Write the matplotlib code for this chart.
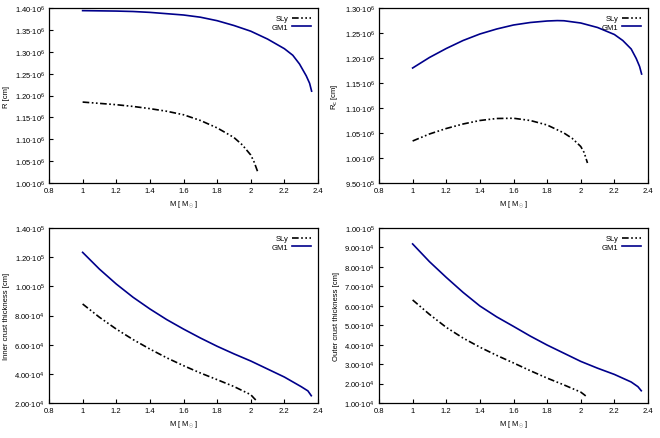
import numpy as np
import matplotlib
matplotlib.use('Agg')
import matplotlib.pyplot as plt
from matplotlib.ticker import FuncFormatter, MultipleLocator

plt.rcParams['font.family'] = ['Liberation Sans', 'DejaVu Sans']
plt.rcParams['mathtext.fontset'] = 'custom'
plt.rcParams['mathtext.rm'] = 'Liberation Sans'
plt.rcParams['mathtext.it'] = 'Liberation Sans'

# radius R [cm] vs mass [M_sun]
m_gm1_r = [1.0, 1.1, 1.2, 1.3, 1.4, 1.5, 1.6, 1.7, 1.8, 1.9, 2.0, 2.1, 2.2, 2.25, 2.29, 2.33, 2.35, 2.362]
r_gm1 = [1.394, 1.3935, 1.393, 1.392, 1.390, 1.387, 1.384, 1.379, 1.371, 1.360, 1.347, 1.329,
         1.307, 1.292, 1.272, 1.245, 1.228, 1.210]
m_sly_r = [1.0, 1.1, 1.2, 1.3, 1.4, 1.5, 1.6, 1.7, 1.8, 1.9, 1.95, 2.0, 2.02, 2.04]
r_sly = [1.185, 1.182, 1.179, 1.175, 1.170, 1.164, 1.156, 1.143, 1.126, 1.104, 1.087, 1.064, 1.048, 1.027]

# core radius Rc [cm]
m_gm1_rc = [1.0, 1.1, 1.2, 1.3, 1.4, 1.5, 1.6, 1.7, 1.8, 1.86, 1.9, 2.0, 2.1, 2.2, 2.25, 2.3, 2.33, 2.35, 2.362]
rc_gm1 = [1.180, 1.201, 1.219, 1.235, 1.248, 1.258, 1.266, 1.271, 1.274, 1.2748, 1.2745, 1.270, 1.261,
          1.247, 1.235, 1.218, 1.199, 1.183, 1.168]
m_sly_rc = [1.0, 1.1, 1.2, 1.3, 1.4, 1.5, 1.6, 1.7, 1.8, 1.9, 1.95, 2.0, 2.02, 2.04]
rc_sly = [1.034, 1.048, 1.059, 1.068, 1.075, 1.079, 1.0795, 1.075, 1.066, 1.050, 1.039, 1.023, 1.011, 0.990]

# inner crust thickness [cm]
m_gm1_in = [1.0, 1.1, 1.2, 1.3, 1.4, 1.5, 1.6, 1.7, 1.8, 1.9, 2.0, 2.1, 2.2, 2.3, 2.34, 2.36]
inner_gm1 = [12.33, 11.18, 10.16, 9.25, 8.45, 7.72, 7.07, 6.46, 5.89, 5.37, 4.88, 4.33, 3.78, 3.12, 2.83, 2.50]
m_sly_in = [1.0, 1.1, 1.2, 1.3, 1.4, 1.5, 1.6, 1.7, 1.8, 1.9, 2.0, 2.02, 2.04]
inner_sly = [8.79, 7.88, 7.07, 6.35, 5.70, 5.10, 4.56, 4.06, 3.60, 3.13, 2.57, 2.32, 2.09]

# outer crust thickness [cm]
m_gm1_out = [1.0, 1.1, 1.2, 1.3, 1.4, 1.5, 1.6, 1.7, 1.8, 1.9, 2.0, 2.1, 2.2, 2.3, 2.34, 2.36]
outer_gm1 = [9.18, 8.27, 7.46, 6.69, 5.99, 5.43, 4.94, 4.44, 3.98, 3.56, 3.14, 2.79, 2.47, 2.08, 1.84, 1.63]
m_sly_out = [1.0, 1.1, 1.2, 1.3, 1.4, 1.5, 1.6, 1.7, 1.8, 1.9, 2.0, 2.02, 2.04]
outer_sly = [6.30, 5.56, 4.89, 4.34, 3.87, 3.45, 3.06, 2.66, 2.28, 1.93, 1.56, 1.43, 1.29]


def sci(v, pos):
    if v <= 0:
        return ''
    e = int(np.floor(np.log10(v) + 1e-9))
    mant = v / 10**e
    return r'%.2f$\cdot$10$^{%d}$' % (mant, e)


# (SLy mass, SLy values, GM1 mass, GM1 values, scale, y label, y range, y step)
panels = [
    (m_sly_r, r_sly, m_gm1_r, r_gm1, 1e6, 'R [cm]', (1.00e6, 1.40e6), 0.05e6),
    (m_sly_rc, rc_sly, m_gm1_rc, rc_gm1, 1e6, r'R$_{\rm c}$ [cm]', (0.95e6, 1.30e6), 0.05e6),
    (m_sly_in, inner_sly, m_gm1_in, inner_gm1, 1e4, 'Inner crust thickness [cm]', (2.0e4, 1.4e5), 2e4),
    (m_sly_out, outer_sly, m_gm1_out, outer_gm1, 1e4, 'Outer crust thickness [cm]', (1.0e4, 1.0e5), 1e4),
]

fig = plt.figure(figsize=(6.6, 4.39), dpi=100)
W, H = 660, 439
boxes = [(49, 9), (379, 9), (49, 229), (379, 229)]
aw, ah = 269, 175

for (ms, ys, mg, yg, sc, ylab, ylim, step), (x0, y0) in zip(panels, boxes):
    ax = fig.add_axes([x0 / W, 1 - (y0 + ah) / H, aw / W, ah / H])
    ax.plot(ms, np.array(ys) * sc, color='black', lw=1.2,
            dashes=[4, 1.5, 1, 1.5, 1, 1.5], label='SLy')
    ax.plot(mg, np.array(yg) * sc, color='#00008b', lw=1.2, label='GM1')
    ax.set_xlim(0.8, 2.4)
    ax.set_ylim(*ylim)
    ax.xaxis.set_major_locator(MultipleLocator(0.2))
    ax.xaxis.set_major_formatter(FuncFormatter(lambda v, p: '%g' % round(v, 1)))
    ax.yaxis.set_major_locator(MultipleLocator(step))
    ax.yaxis.set_major_formatter(FuncFormatter(sci))
    ax.tick_params(direction='in', length=3, width=0.8, labelsize=5.5, pad=3)
    for s in ax.spines.values():
        s.set_linewidth(0.9)
    ax.set_xlabel(r'M [ M$_{\odot}$ ]', fontsize=5.5, labelpad=3)
    ax.set_ylabel(ylab, fontsize=5.5, labelpad=3)
    ax.legend(loc='upper right', frameon=False, fontsize=5.5, markerfirst=False,
              handlelength=2.5, handletextpad=0.5, labelspacing=0.2, borderaxespad=0.5)

fig.savefig('out.png', dpi=100)
